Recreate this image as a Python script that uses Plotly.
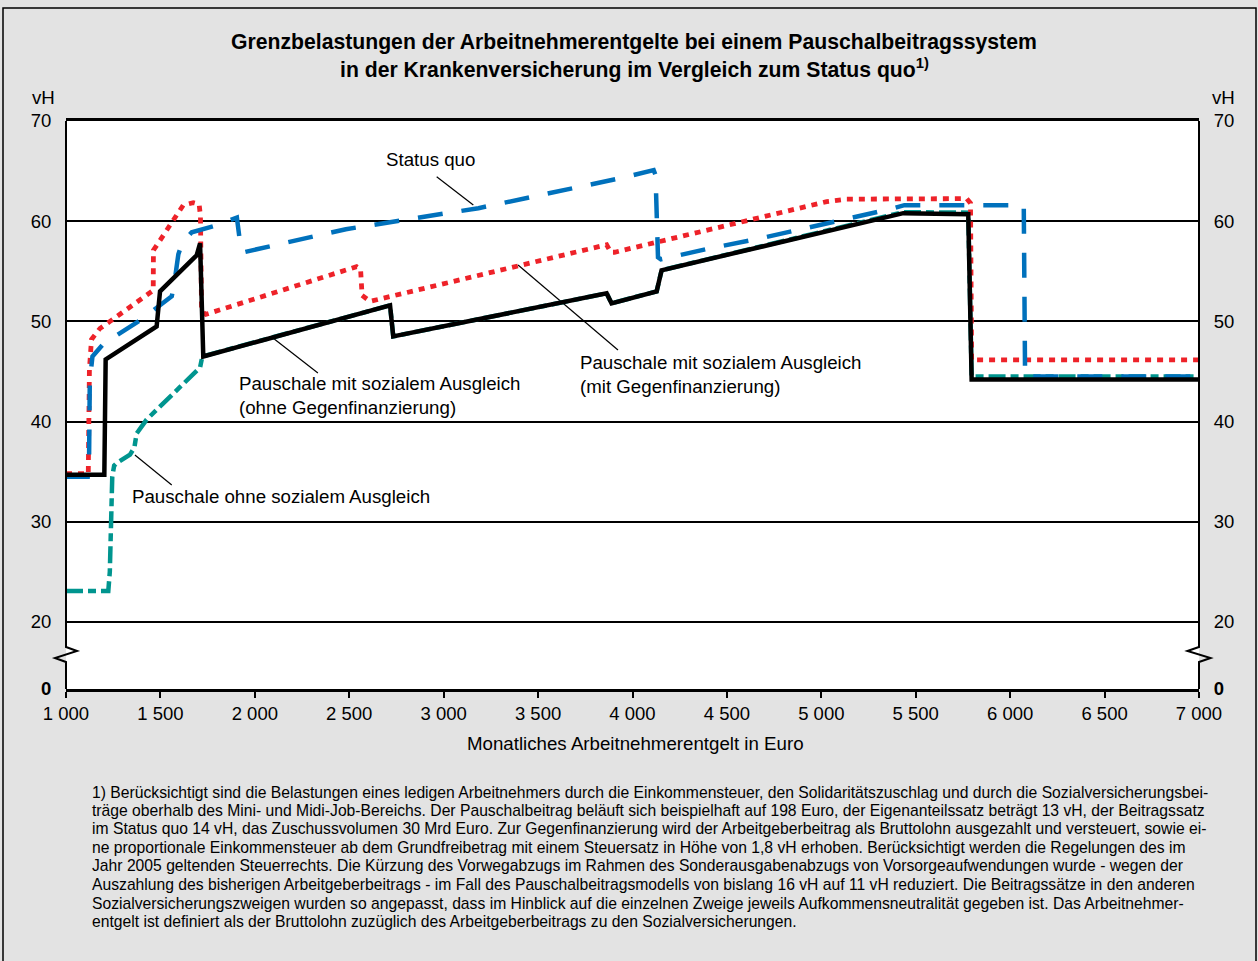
import plotly.graph_objects as go

FONT = "Liberation Sans, Arial, Helvetica, sans-serif"

# ---------------- data ----------------
X_TICKS = [1000, 1500, 2000, 2500, 3000, 3500, 4000, 4500, 5000, 5500, 6000, 6500, 7000]
X_TICK_LABELS = ["1 000", "1 500", "2 000", "2 500", "3 000", "3 500", "4 000",
                 "4 500", "5 000", "5 500", "6 000", "6 500", "7 000"]
Y_ZERO_POS = 13.31          # display position of the "0" label below the axis break
Y_TICKS = [Y_ZERO_POS, 20, 30, 40, 50, 60, 70]
Y_TICK_LABELS = ["<b>0</b>", "20", "30", "40", "50", "60", "70"]

# Status quo (blue dashed)
sq_x = [1000, 1115, 1122, 1126, 1140, 1200, 1392, 1560, 1575, 1595, 1615, 1666, 1780,
        1905, 1925, 1940, 2482, 3184, 3951, 4112, 4122, 4135, 4150, 4419, 4657, 4896,
        5134, 5372, 5440, 6072, 6079, 7000]
sq_y = [34.5, 34.5, 36.0, 44.0, 46.5, 47.8, 50.1, 52.5, 54.0, 56.7, 57.8, 58.9, 59.5,
        60.35, 57.4, 56.9, 59.2, 61.3, 64.35, 65.1, 64.6, 56.4, 56.2, 57.33, 58.2, 59.2,
        60.2, 61.24, 61.6, 61.6, 44.5, 44.5]

# Pauschale mit sozialem Ausgleich (mit Gegenfinanzierung) (red dotted)
mit_x = [1000, 1118, 1121, 1124, 1135, 1180, 1233, 1462, 1463, 1498, 1586, 1621, 1674,
         1705, 1712, 1718, 1740, 2539, 2560, 2568, 2610, 3863, 3885, 3905, 5028, 5134,
         5770, 5790, 5796, 7000]
mit_y = [34.8, 34.8, 40.0, 45.2, 48.2, 49.3, 50.0, 53.1, 57.1, 58.1, 60.45, 61.6, 61.85,
         61.7, 60.5, 51.0, 50.7, 55.46, 55.2, 52.6, 52.0, 57.65, 56.9, 56.9, 61.95, 62.2,
         62.25, 61.8, 46.15, 46.15]

# Pauschale mit sozialem Ausgleich (ohne Gegenfinanzierung) (black solid)
ohne_x = [1000, 1203, 1210, 1480, 1498, 1692, 1710, 1727, 2716, 2733, 3863, 3889, 4128,
          4154, 5434, 5778, 5796, 7000]
ohne_y = [34.7, 34.7, 46.2, 49.5, 53.0, 56.6, 57.8, 46.5, 51.6, 48.5, 52.8, 51.8, 53.0,
          55.1, 60.8, 60.7, 44.2, 44.2]

# Pauschale ohne sozialem Ausgleich (teal dash-dot)
ps_x = [1000, 1224, 1232, 1245, 1255, 1268, 1339, 1362, 1374, 1427, 1710, 1722, 2716,
        2733, 3863, 3889, 4128, 4154, 5434, 5778, 5796, 7000]
ps_y = [23.1, 23.1, 25.0, 34.5, 35.6, 35.85, 36.7, 37.4, 38.8, 40.2, 45.4, 46.5, 51.6,
        48.5, 52.8, 51.8, 53.0, 55.1, 60.9, 60.85, 44.5, 44.5]

FOOTNOTE_LINES = [
    "1) Berücksichtigt sind die Belastungen eines ledigen Arbeitnehmers durch die Einkommensteuer, den Solidaritätszuschlag und durch die Sozialversicherungsbei-",
    "träge oberhalb des Mini- und Midi-Job-Bereichs. Der Pauschalbeitrag beläuft sich beispielhaft auf 198 Euro, der Eigenanteilssatz beträgt 13 vH, der Beitragssatz",
    "im Status quo 14 vH, das Zuschussvolumen 30 Mrd Euro. Zur Gegenfinanzierung wird der Arbeitgeberbeitrag als Bruttolohn ausgezahlt und versteuert, sowie ei-",
    "ne proportionale Einkommensteuer ab dem Grundfreibetrag mit einem Steuersatz in Höhe von 1,8 vH erhoben. Berücksichtigt werden die Regelungen des im",
    "Jahr 2005 geltenden Steuerrechts. Die Kürzung des Vorwegabzugs im Rahmen des Sonderausgabenabzugs von Vorsorgeaufwendungen wurde - wegen der",
    "Auszahlung des bisherigen Arbeitgeberbeitrags - im Fall des Pauschalbeitragsmodells von bislang 16 vH auf 11 vH reduziert. Die Beitragssätze in den anderen",
    "Sozialversicherungszweigen wurden so angepasst, dass im Hinblick auf die einzelnen Zweige jeweils Aufkommensneutralität gegeben ist. Das Arbeitnehmer-",
    "entgelt ist definiert als der Bruttolohn zuzüglich des Arbeitgeberbeitrags zu den Sozialversicherungen.",
]

TITLE_1 = "Grenzbelastungen der Arbeitnehmerentgelte bei einem Pauschalbeitragssystem"
TITLE_2 = "in der Krankenversicherung im Vergleich zum Status quo<sup>1)</sup>"
X_TITLE = "Monatliches Arbeitnehmerentgelt in Euro"

# ---------------- geometry helpers (pixel -> paper) ----------------
W, H = 1258, 961
PL, PR, PT, PB = 66, 1199, 121, 689


def px(xp):
    return (xp - PL) / (PR - PL)


def py(yp):
    return (PB - yp) / (PB - PT)


YR = [Y_ZERO_POS, 70]

fig = go.Figure()
fig.add_trace(go.Scatter(x=ps_x, y=ps_y, mode="lines", hoverinfo="skip",
                         line=dict(color="#00958f", width=4.5, dash="17px,5px,8px,5px")))
fig.add_trace(go.Scatter(x=mit_x, y=mit_y, mode="lines", hoverinfo="skip",
                         line=dict(color="#ee2229", width=4.8, dash="6px,6px")))
fig.add_trace(go.Scatter(x=sq_x, y=sq_y, mode="lines", hoverinfo="skip",
                         line=dict(color="#0071bc", width=4.5, dash="25px,19px")))
fig.add_trace(go.Scatter(x=ohne_x, y=ohne_y, mode="lines", hoverinfo="skip", yaxis="y2",
                         line=dict(color="black", width=4.5)))

tickfont = dict(family=FONT, size=18.5, color="black")

fig.update_layout(
    width=W, height=H,
    margin=dict(l=PL, r=W - PR, t=PT, b=H - PB),
    paper_bgcolor="#e3e3e3",
    plot_bgcolor="white",
    showlegend=False,
    font=dict(family=FONT, color="black"),
    xaxis=dict(range=[1000, 7000], tickvals=X_TICKS, ticktext=X_TICK_LABELS,
               showgrid=False, zeroline=False, showline=True, mirror=True,
               linecolor="black", linewidth=2.5, ticks="outside", ticklen=6,
               tickwidth=1.5, tickcolor="black", tickfont=tickfont),
    yaxis=dict(range=YR, tickvals=Y_TICKS, ticktext=Y_TICK_LABELS, showgrid=True,
               gridcolor="black", gridwidth=1.5, zeroline=False, showline=False,
               ticks="outside", ticklen=10, tickcolor="rgba(0,0,0,0)", tickfont=tickfont),
    yaxis2=dict(range=YR, tickvals=Y_TICKS, ticktext=Y_TICK_LABELS, overlaying="y",
                side="right", showgrid=False, zeroline=False, showline=False,
                ticks="outside", ticklen=10, tickcolor="rgba(0,0,0,0)", tickfont=tickfont),
)

shapes = []
# outer frame
shapes.append(dict(type="rect", xref="paper", yref="paper", x0=px(3), x1=px(1256),
                   y0=py(1000), y1=py(8), line=dict(color="black", width=1.5),
                   fillcolor="rgba(0,0,0,0)", layer="below"))
# left / right axis lines with break
zz = [(16.0, 0), (16.4, -11), (17.1, 11), (17.5, 0)]
left = "M {},{} ".format(px(PL), Y_ZERO_POS) + " ".join(
    "L {},{}".format(px(PL + d), yv) for yv, d in zz) + " L {},{}".format(px(PL), 70)
right = "M {},{} ".format(px(PR), Y_ZERO_POS) + " ".join(
    "L {},{}".format(px(PR - d * 1.05), yv) for yv, d in zz) + " L {},{}".format(px(PR), 70)
for p in (left, right):
    shapes.append(dict(type="path", xref="paper", yref="y", path=p,
                       line=dict(color="black", width=2), layer="above"))
# leader lines
leaders = [((2963, 64.44), (3157, 61.62)),
           ((2096, 48.34), (2334, 44.85)),
           ((3394, 55.63), (3923, 47.15)),
           ((1365, 36.67), (1560, 33.67))]
for (x0, y0), (x1, y1) in leaders:
    shapes.append(dict(type="line", xref="x", yref="y", x0=x0, y0=y0, x1=x1, y1=y1,
                       line=dict(color="black", width=1.2), layer="between"))
fig.update_layout(shapes=shapes)

ann = []
lab = dict(family=FONT, size=18.7, color="black")
ann.append(dict(x=2928, y=66.2, xref="x", yref="y", text="Status quo", showarrow=False,
                font=lab, xanchor="center", yanchor="middle"))
ann.append(dict(x=1906, y=42.65, xref="x", yref="y",
                text="Pauschale mit sozialem Ausgleich<br>(ohne Gegenfinanzierung)",
                showarrow=False, font=lab, xanchor="left", yanchor="middle", align="left"))
ann.append(dict(x=3711, y=44.65, xref="x", yref="y",
                text="Pauschale mit sozialem Ausgleich<br>(mit Gegenfinanzierung)",
                showarrow=False, font=lab, xanchor="left", yanchor="middle", align="left"))
ann.append(dict(x=1339, y=32.57, xref="x", yref="y", text="Pauschale ohne sozialem Ausgleich",
                showarrow=False, font=lab, xanchor="left", yanchor="middle"))
# vH unit labels
for xp_ in (43, 1223):
    ann.append(dict(x=px(xp_), y=py(97), xref="paper", yref="paper", text="vH",
                    showarrow=False, font=lab, xanchor="center", yanchor="middle"))
# x axis title
ann.append(dict(x=px(635), y=py(743), xref="paper", yref="paper", text=X_TITLE,
                showarrow=False, font=lab, xanchor="center", yanchor="middle"))
# title lines
tfont = dict(family=FONT, size=21.2, color="black")
ann.append(dict(x=px(634), y=py(42), xref="paper", yref="paper", text="<b>" + TITLE_1 + "</b>",
                showarrow=False, font=tfont, xanchor="center", yanchor="middle"))
ann.append(dict(x=px(634), y=py(68), xref="paper", yref="paper", text="<b>" + TITLE_2 + "</b>",
                showarrow=False, font=tfont, xanchor="center", yanchor="middle"))
# footnote
for i, line in enumerate(FOOTNOTE_LINES):
    ann.append(dict(x=px(90), y=py(792 + i * 18.5), xref="paper", yref="paper", text=line,
                    showarrow=False, font=dict(family=FONT, size=15.7, color="black"),
                    xanchor="left", yanchor="middle", align="left"))
fig.update_layout(annotations=ann)

fig.write_html("out.html", config={"displayModeBar": False},
               post_script="document.body.style.margin='0';")
